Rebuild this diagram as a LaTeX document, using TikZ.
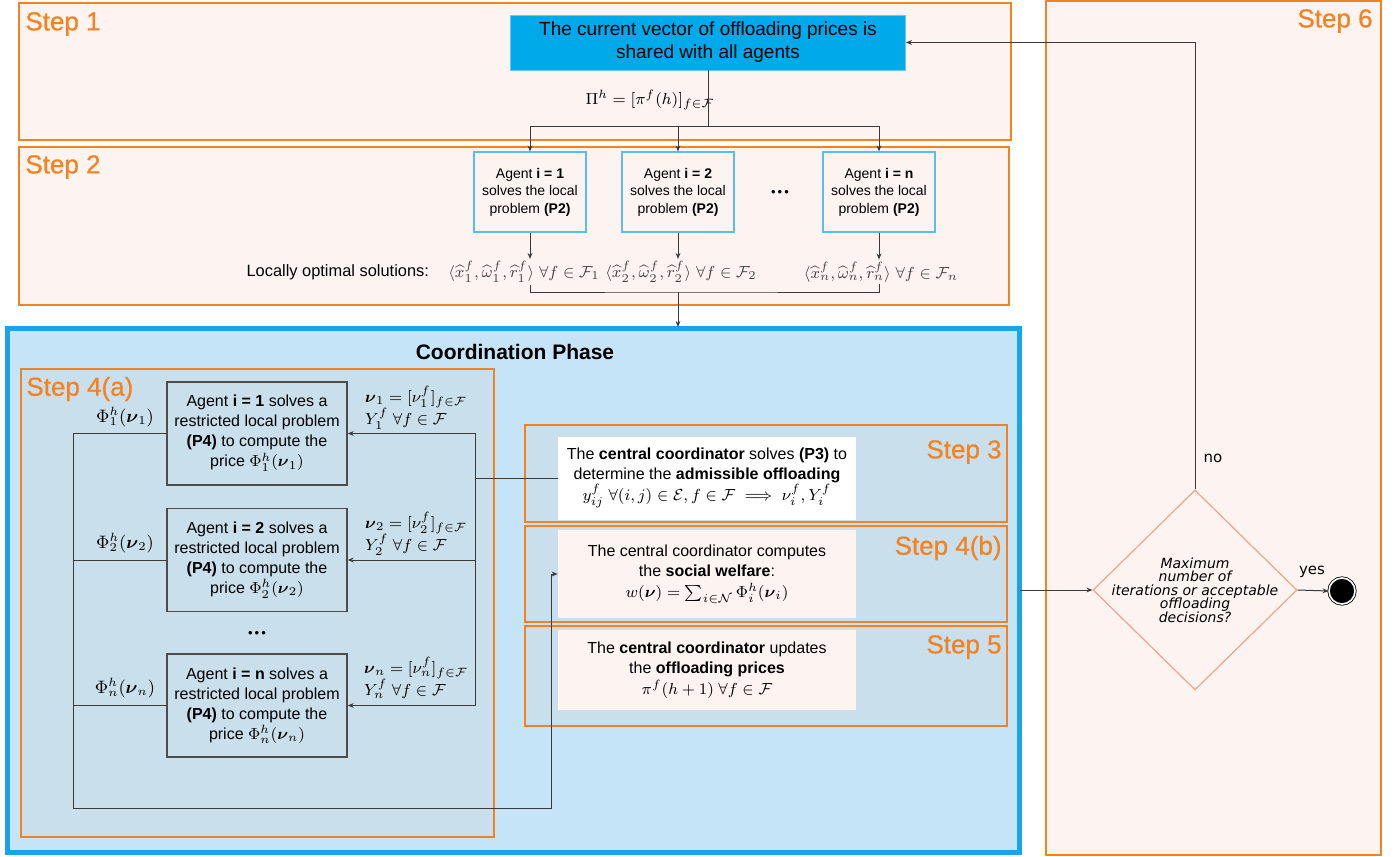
\documentclass[tikz,border=0pt]{standalone}
\usepackage{amsmath,amssymb}
\usepackage[no-math]{fontspec}
\setmainfont{Liberation Sans}
\newfontfamily\diafont{DejaVu Sans}
\newfontfamily\stepfont[FakeBold=0.6]{Liberation Sans}
\usetikzlibrary{positioning,shapes.geometric,arrows.meta}
\definecolor{steporange}{HTML}{F58220}
\definecolor{stepbg}{HTML}{FDF4F2}
\definecolor{coordbg}{HTML}{C6E4F7}
\definecolor{coordline}{HTML}{1AA3E6}
\definecolor{innerbg}{HTML}{C9DFEC}
\definecolor{sharedblue}{HTML}{00A9E9}
\definecolor{agentline}{HTML}{5BBDEB}
\definecolor{diamondline}{HTML}{F4A28C}
\definecolor{wire}{HTML}{3A3A3A}
\begin{document}
\begin{tikzpicture}[x=0.5pt,y=-0.5pt,font=\fontsize{7}{8.7}\selectfont,
	wire/.style={draw=wire,line width=.5pt},
	arr/.style={wire,-{Stealth[length=3pt,width=2.4pt]}},
	frame/.style={draw=steporange,line width=1pt,fill=stepbg},
	innerframe/.style={draw=steporange,line width=1pt,fill=innerbg},
	steplabel/.style={text=steporange,inner sep=0pt,font=\stepfont\fontsize{13}{15}\selectfont},
	sharedbox/.style={fill=sharedblue,draw=sharedblue!60!white,minimum width=197.5pt,minimum height=27.5pt,align=center,font=\fontsize{9.5}{11.5}\selectfont},
	agentbox/.style={draw=agentline,line width=.6pt,fill=stepbg,minimum width=56pt,minimum height=40pt,align=center,inner sep=1pt},
	restrbox/.style={draw=black!70,line width=.7pt,fill=innerbg,minimum width=90pt,minimum height=51.5pt,align=center,inner sep=1pt,font=\fontsize{8}{10}\selectfont},
	coordbox/.style={minimum width=149pt,align=center,inner sep=1pt,font=\fontsize{8}{10.2}\selectfont},
	decision/.style={diamond,draw=diamondline,line width=.6pt,fill=stepbg,minimum width=102pt,minimum height=100pt,inner sep=0pt},
	phi/.style={font=\fontsize{9}{10}\selectfont,inner sep=1pt},
	nulab/.style={align=left,inner sep=1pt,font=\fontsize{8}{11}\selectfont},
	sol/.style={text=black!75,inner sep=1pt,font=\fontsize{8.5}{10}\selectfont},
	]
	\useasboundingbox (0,0) rectangle (1398,857);
	\fill[white] (0,0) rectangle (1398,857);
	\begin{scope}
		\draw[frame] (19,3) rectangle (1011,140);
		\draw[frame] (19,147) rectangle (1009,305);
		\draw[frame] (1046,1) rectangle (1381,855);
		\node[steplabel,anchor=west] (s1) at (25,24) {Step 1};
		\node[steplabel,anchor=west] (s2) at (25,167) {Step 2};
		\node[steplabel,anchor=east] (s6) at (1373,21) {Step 6};
	\end{scope}
	\node[sharedbox] (shared) at (708,42.5) {The current vector of offloading prices is\\shared with all agents};
	\node[font=\fontsize{8.5}{10}\selectfont] (pih) at (650,100) {$\Pi^h=[\pi^f(h)]_{f\in\mathcal{F}}$};
	\node[agentbox] (ag1) at (530,192) {Agent \textbf{i = 1}\\solves the local\\problem \textbf{(P2)}};
	\node[agentbox] (ag2) at (678,192) {Agent \textbf{i = 2}\\solves the local\\problem \textbf{(P2)}};
	\node[agentbox] (agn) at (879,192) {Agent \textbf{i = n}\\solves the local\\problem \textbf{(P2)}};
	\node[font=\fontsize{6.5}{6.5}\selectfont] (dots1) at (780,193) {\textbullet\,\textbullet\,\textbullet};
	\node[anchor=east,font=\fontsize{8.2}{10}\selectfont] (loc) at (436,272) {Locally optimal solutions:};
	\node[sol] (sol1) at (524,272) {$\langle\widehat{x}_1^f,\widehat{\omega}_1^f,\widehat{r}_1^f\rangle\ \forall f\in\mathcal{F}_1$};
	\node[sol] (sol2) at (681,272) {$\langle\widehat{x}_2^f,\widehat{\omega}_2^f,\widehat{r}_2^f\rangle\ \forall f\in\mathcal{F}_2$};
	\node[sol] (soln) at (881,272) {$\langle\widehat{x}_n^f,\widehat{\omega}_n^f,\widehat{r}_n^f\rangle\ \forall f\in\mathcal{F}_n$};
	\coordinate (split) at (708,126);
	\coordinate (merge) at (678,292);
	\draw[wire] (shared.south) -- (split);
	\draw[arr] (split) -| (ag1.north);
	\draw[arr] (split) -| (ag2.north);
	\draw[arr] (split) -| (agn.north);
	\draw[arr] (ag1.south) -- (ag1.south |- sol1.north);
	\draw[arr] (ag2.south) -- (ag2.south |- sol2.north);
	\draw[arr] (agn.south) -- (agn.south |- soln.north);
	\draw[wire] (ag1.south |- sol1.south) |- (merge) -| (agn.south |- soln.south);
	\begin{scope}
		\draw[draw=coordline,line width=2.5pt,fill=coordbg] (7,328) rectangle (1019,852);
		\draw[innerframe] (21,369) rectangle (494,837);
		\draw[innerframe] (525,425) rectangle (1007,522);
		\draw[innerframe] (525,526) rectangle (1007,622);
		\draw[innerframe] (525,626) rectangle (1007,726);
		\node[font=\bfseries\fontsize{10.5}{12}\selectfont] (ctitle) at (515,352) {Coordination Phase};
		\node[steplabel,anchor=west] (s4a) at (26,389) {Step 4(a)};
		\node[steplabel,anchor=east] (s3) at (1002,452) {Step 3};
		\node[steplabel,anchor=east] (s4b) at (1002,548) {Step 4(b)};
		\node[steplabel,anchor=east] (s5) at (1002,647) {Step 5};
	\end{scope}
	\draw[arr] (merge) -- (678,327);
	\node[restrbox] (r1) at (257,433.5) {Agent \textbf{i = 1} solves a\\restricted local problem\\\textbf{(P4)} to compute the\\price $\Phi_1^h(\boldsymbol{\nu}_1)$};
	\node[restrbox] (r2) at (257,560) {Agent \textbf{i = 2} solves a\\restricted local problem\\\textbf{(P4)} to compute the\\price $\Phi_2^h(\boldsymbol{\nu}_2)$};
	\node[font=\fontsize{6.5}{6.5}\selectfont] (dots2) at (257,634) {\textbullet\,\textbullet\,\textbullet};
	\node[restrbox] (rn) at (257,705.5) {Agent \textbf{i = n} solves a\\restricted local problem\\\textbf{(P4)} to compute the\\price $\Phi_n^h(\boldsymbol{\nu}_n)$};
	\node[phi] (p1) at (125,417) {$\Phi_1^h(\boldsymbol{\nu}_1)$};
	\node[phi] (p2) at (125,543) {$\Phi_2^h(\boldsymbol{\nu}_2)$};
	\node[phi] (pn) at (125,688) {$\Phi_n^h(\boldsymbol{\nu}_n)$};
	\node[nulab] (n1) at (416,408) {$\boldsymbol{\nu}_1=[\nu_1^f]_{f\in\mathcal{F}}$\\$Y_1^f\ \forall f\in\mathcal{F}$};
	\node[nulab] (n2) at (416,534) {$\boldsymbol{\nu}_2=[\nu_2^f]_{f\in\mathcal{F}}$\\$Y_2^f\ \forall f\in\mathcal{F}$};
	\node[nulab] (nn) at (416,678) {$\boldsymbol{\nu}_n=[\nu_n^f]_{f\in\mathcal{F}}$\\$Y_n^f\ \forall f\in\mathcal{F}$};
	\node[coordbox,fill=white,minimum height=41.5pt] (c3) at (707,478) {The \textbf{central coordinator} solves \textbf{(P3)} to\\determine the \textbf{admissible offloading}\\$y_{ij}^f\ \forall(i,j)\in\mathcal{E},f\in\mathcal{F}\implies\nu_i^f,Y_i^f$};
	\node[coordbox,fill=stepbg,minimum height=44pt] (c4) at (707,574) {The central coordinator computes\\the \textbf{social welfare}:\\$w(\boldsymbol{\nu})=\sum_{i\in\mathcal{N}}\Phi_i^h(\boldsymbol{\nu}_i)$};
	\node[coordbox,fill=stepbg,minimum height=40pt] (c5) at (707,670) {The \textbf{central coordinator} updates\\the \textbf{offloading prices}\\$\pi^f(h+1)\ \forall f\in\mathcal{F}$};
	\coordinate (bus) at (475,480);
	\coordinate (fb) at (73,808);
	\coordinate (fbr) at (551,808);
	\draw[wire] (c3.west) -- (c3.west -| bus);
	\draw[arr] (c3.west -| bus) |- (r1.east);
	\draw[arr] (c3.west -| bus) |- (rn.east);
	\draw[arr] (r2.east -| bus) -- (r2.east);
	\draw[arr] (r1.west) -| (fb) -- (fbr) |- (c4.west);
	\draw[wire] (r2.west) -- (r2.west -| fb);
	\draw[wire] (rn.west) -- (rn.west -| fb);
	\node[decision] (dec) at (1195,590) {};
	\node[align=center,inner sep=0pt,font=\diafont\itshape\fontsize{7}{6.8}\selectfont] (dectext) at (dec.center) {Maximum\\number of\\iterations or acceptable\\offloading\\decisions?};
	\node[circle,fill=black,draw=black,double=white,double distance=.8pt,line width=.4pt,minimum size=13pt,inner sep=0pt] (stop) at (1342,591) {};
	\node[font=\diafont\fontsize{7.5}{8}\selectfont] (no) at (1213,458) {no};
	\node[font=\diafont\fontsize{7.5}{8}\selectfont] (yes) at (1312,572) {yes};
	\coordinate (cout) at (1020,590);
	\draw[arr] (cout) -- (dec.west);
	\draw[arr] (dec.east) -- (stop.west);
	\draw[arr] (dec.north) |- (shared.east);
\end{tikzpicture}
\end{document}
